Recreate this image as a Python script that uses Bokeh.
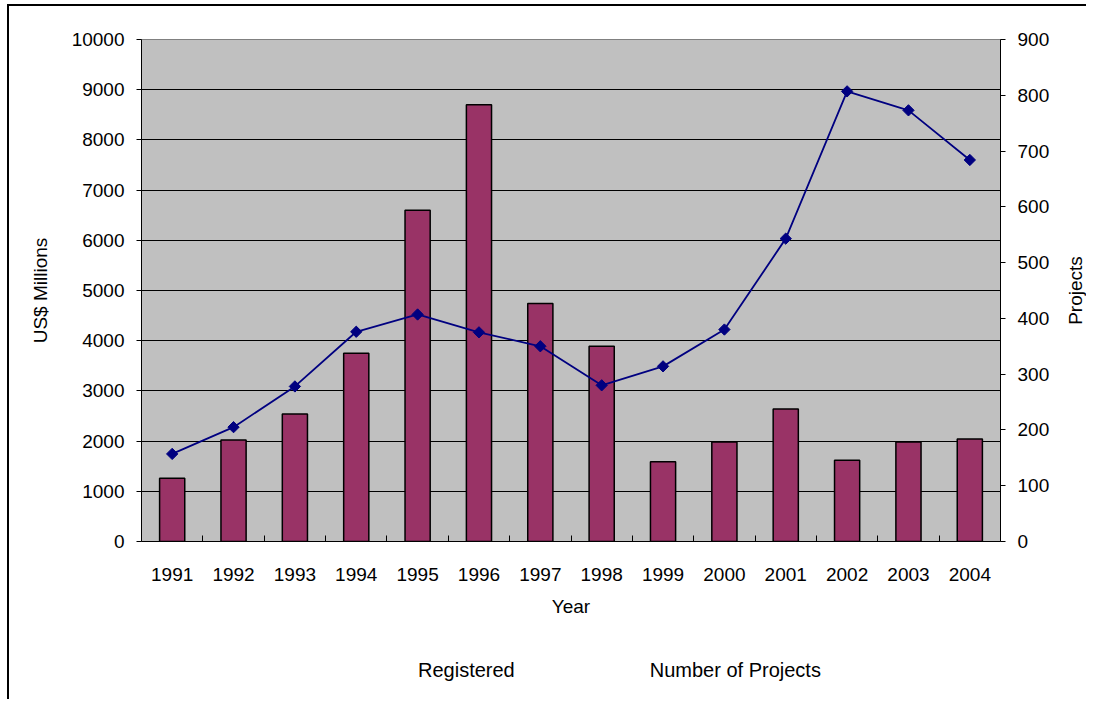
from bokeh.plotting import figure
from bokeh.layouts import column, row
from bokeh.models import Range1d, LinearAxis, FixedTicker, Legend, LegendItem, CDSView, IndexFilter, ColumnDataSource
from bokeh.embed import file_html
from bokeh.resources import INLINE

years = [1991, 1992, 1993, 1994, 1995, 1996, 1997, 1998, 1999, 2000, 2001, 2002, 2003, 2004]
registered = [1260, 2020, 2540, 3750, 6600, 8700, 4740, 3890, 1590, 1980, 2640, 1620, 1980, 2040]
projects = [157, 205, 278, 376, 407, 375, 350, 280, 314, 380, 543, 807, 773, 684]
left_ticks = list(range(0, 10001, 1000))
right_ticks = list(range(0, 901, 100))

FONT = "Liberation Sans"
BAR_STYLE = dict(fill_color="#993366", line_color="black", line_width=1.5)
LINE_STYLE = dict(line_color="#000080", line_width=1.8)
MARK_STYLE = dict(marker="square", size=8, angle=0.785398, fill_color="#000080", line_color="#000080")

# ---------------- main chart ----------------
p = figure(frame_width=859, frame_height=502,
           min_border_left=132, min_border_top=33, min_border_right=55, min_border_bottom=92,
           x_range=Range1d(1990.5, 2004.5), y_range=Range1d(0, 10000),
           output_backend="svg", toolbar_location=None,
           background_fill_color="#C0C0C0", border_fill_color="white",
           outline_line_color="#808080")

p.extra_y_ranges = {"proj": Range1d(0, 900)}

bars = p.vbar(x=years, top=registered, width=0.41, bottom=0, **BAR_STYLE)
ln = p.line(x=years, y=projects, y_range_name="proj", **LINE_STYLE)
mk = p.scatter(x=years, y=projects, y_range_name="proj", **MARK_STYLE)

xa = p.xaxis[0]
xa.ticker = FixedTicker(ticks=years, minor_ticks=[y + 0.5 for y in years[:-1]])
xa.minor_tick_in = 6
xa.minor_tick_out = 0
xa.minor_tick_line_color = "black"
xa.axis_label = "Year"

ya = p.yaxis[0]
ya.ticker = FixedTicker(ticks=left_ticks)
ya.major_tick_in = 0
ya.major_tick_out = 5
ya.minor_tick_line_color = None
ya.axis_label = "US$ Millions"

ra = LinearAxis(y_range_name="proj", ticker=FixedTicker(ticks=right_ticks))
ra.major_tick_in = 0
ra.major_tick_out = 5
ra.minor_tick_line_color = None
p.add_layout(ra, "right")

for ax in [xa, ya, ra]:
    ax.major_label_text_font = FONT
    ax.major_label_text_font_size = "19px"
    ax.major_label_text_color = "black"
    ax.axis_label_text_font = FONT
    ax.axis_label_text_font_size = "19px"
    ax.axis_label_text_font_style = "normal"
    ax.axis_label_text_color = "black"
    ax.axis_line_color = "black"
    ax.major_tick_line_color = "black"

xa.major_tick_line_color = None
xa.major_label_standoff = 20
xa.axis_label_standoff = 12
ya.major_label_standoff = 12
ya.axis_label_standoff = 18
ra.major_label_standoff = 12

p.xgrid.grid_line_color = None
p.ygrid.ticker = FixedTicker(ticks=left_ticks)
p.ygrid.grid_line_color = "black"
p.ygrid.grid_line_width = 1

# ---------------- right-hand axis title (reads bottom to top) ----------------
nf = figure(frame_width=1, frame_height=502,
            min_border_left=30, min_border_right=0, min_border_top=33, min_border_bottom=92,
            x_range=Range1d(0, 1), y_range=Range1d(0, 1), x_axis_location=None,
            output_backend="svg", toolbar_location=None,
            outline_line_color=None, background_fill_color="white", border_fill_color="white")
nf.grid.visible = False
ny = nf.yaxis[0]
ny.ticker = FixedTicker(ticks=[])
ny.axis_line_color = None
ny.major_tick_line_color = None
ny.minor_tick_line_color = None
ny.axis_label = "Projects"
ny.axis_label_standoff = 0
ny.axis_label_text_font = FONT
ny.axis_label_text_font_size = "19px"
ny.axis_label_text_font_style = "normal"
ny.axis_label_text_color = "black"

# ---------------- legend strip (renderers filtered to show no marks; only legend) ----------------
lf = figure(width=1077, height=66, min_border=0,
            x_range=Range1d(1990.5, 2004.5), y_range=Range1d(0, 10000),
            x_axis_location=None, y_axis_location=None,
            output_backend="svg", toolbar_location=None,
            outline_line_color=None, background_fill_color="white", border_fill_color="white")
lf.grid.visible = False
src = ColumnDataSource(data=dict(x=years, top=registered, proj=projects))
empty_view = CDSView(filter=IndexFilter(indices=[]))
lbars = lf.vbar(x="x", top="top", width=0.41, bottom=0, source=src, view=empty_view, **BAR_STYLE)
lln = lf.line(x="x", y="proj", source=src, view=CDSView(filter=IndexFilter(indices=[])), **LINE_STYLE)
lmk = lf.scatter(x="x", y="proj", source=src, view=CDSView(filter=IndexFilter(indices=[])),
                 marker="diamond", size=14, fill_color="#000080", line_color="#000080")

legend = Legend(items=[LegendItem(label="Registered", renderers=[lbars]),
                       LegendItem(label="Number of Projects", renderers=[lln, lmk])],
                location=(354, 17), orientation="horizontal",
                padding=0, margin=0, spacing=80, label_standoff=7,
                glyph_width=48, glyph_height=15, label_height=20,
                border_line_color=None, background_fill_alpha=0,
                label_text_font=FONT, label_text_font_size="20px", label_text_color="black")
lf.add_layout(legend, "center")

layout = column(row(p, nf), lf,
                styles={"border-left": "2px solid black", "border-top": "2px solid black",
                        "margin-left": "7px", "margin-top": "4px"})

open("out.html", "w").write(file_html(layout, INLINE))
